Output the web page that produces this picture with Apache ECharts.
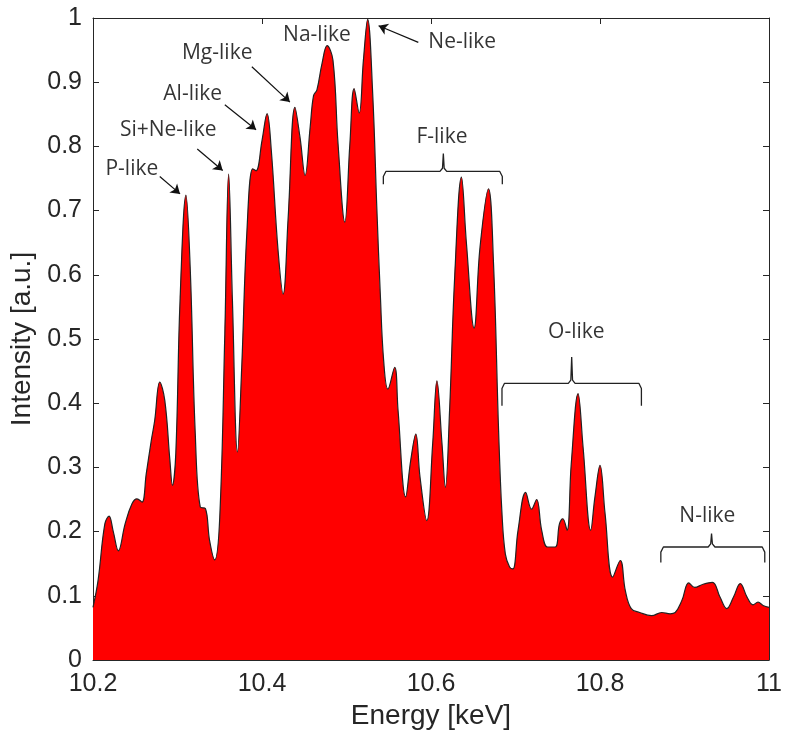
<!DOCTYPE html>
<html>
<head>
<meta charset="utf-8">
<script src="https://cdn.jsdelivr.net/npm/echarts@6/dist/echarts.min.js"></script>
<style>
html,body{margin:0;padding:0;background:#fff;}
#chart{width:786px;height:739px;}
</style>
</head>
<body>
<div id="chart"></div>
<script>
// spectrum
const energy = [
  10.200,10.206,10.214,10.219,10.224,10.230,10.238,10.246,10.252,10.258,
  10.263,10.269,10.273,10.279,10.285,10.291,10.294,10.298,10.303,10.310,
  10.315,10.321,10.327,10.333,10.338,10.344,10.350,10.356,10.3605,10.365,
  10.371,10.376,10.382,10.389,10.393,10.400,10.406,10.411,10.419,10.425,
  10.431,10.439,10.445,10.451,10.457,10.461,10.465,10.471,10.477,10.484,
  10.490,10.498,10.504,10.509,10.515,10.520,10.525,10.531,10.536,10.540,
  10.544,10.549,10.557,10.561,10.570,10.576,10.582,10.587,10.595,10.602,
  10.607,10.613,10.617,10.622,10.628,10.636,10.642,10.651,10.658,10.668,
  10.674,10.680,10.684,10.688,10.693,10.697,10.703,10.712,10.719,10.725,
  10.731,10.738,10.747,10.752,10.756,10.761,10.766,10.774,10.780,10.789,
  10.794,10.800,10.806,10.815,10.824,10.830,10.837,10.847,10.861,10.873,
  10.883,10.889,10.897,10.905,10.912,10.922,10.933,10.942,10.950,10.958,
  10.966,10.974,10.981,10.987,10.993,11.000
];
const intensity = [
  0.082,0.124,0.212,0.224,0.200,0.170,0.212,0.243,0.251,0.246,
  0.290,0.342,0.373,0.433,0.404,0.311,0.272,0.322,0.560,0.724,
  0.612,0.353,0.238,0.236,0.186,0.156,0.222,0.508,0.757,0.560,
  0.324,0.456,0.664,0.765,0.762,0.809,0.851,0.794,0.638,0.570,
  0.690,0.861,0.814,0.755,0.830,0.879,0.888,0.929,0.957,0.934,
  0.804,0.682,0.804,0.890,0.852,0.934,0.998,0.882,0.700,0.570,
  0.466,0.422,0.456,0.389,0.254,0.311,0.352,0.285,0.217,0.337,
  0.435,0.337,0.269,0.389,0.596,0.752,0.648,0.517,0.643,0.734,
  0.617,0.357,0.228,0.165,0.145,0.142,0.202,0.261,0.235,0.250,
  0.202,0.176,0.176,0.212,0.220,0.202,0.306,0.415,0.331,0.202,
  0.254,0.303,0.228,0.129,0.155,0.108,0.080,0.074,0.069,0.074,
  0.072,0.074,0.093,0.120,0.113,0.118,0.121,0.098,0.080,0.098,
  0.119,0.098,0.086,0.090,0.085,0.082
];

// annotations, in data units
const labelNames = ['P-like','Si+Ne-like','Al-like','Mg-like','Na-like','Ne-like','F-like','O-like','N-like'];
const labelAt = [
  [10.246,0.765],[10.289,0.825],[10.318,0.882],[10.347,0.946],[10.465,0.973],
  [10.637,0.962],[10.613,0.815],[10.772,0.511],[10.927,0.225]
];
// [from, to]
const arrows = [
  [[10.279,0.753],[10.303,0.726]],
  [[10.3234,0.796],[10.3535,0.7625]],
  [[10.356,0.865],[10.393,0.826]],
  [[10.388,0.924],[10.433,0.869]],
  [[10.585,0.962],[10.538,0.988]]
];
// [left, right, centre, level, end, tip]
const braces = [
  [10.5436,10.6844,10.6146,0.761,0.741,0.789],
  [10.684,10.849,10.7665,0.431,0.396,0.472],
  [10.872,10.995,10.932,0.176,0.152,0.197]
];

function bracePath(b){
  const [x1,x2,xc,yH,yE,yT] = b;
  return [
    [x1,yE],[x1,yH-0.008],[x1+0.003,yH],
    [xc-0.004,yH],[xc-0.001,yH+0.005],[xc,yT],
    [xc+0.001,yH+0.005],[xc+0.004,yH],
    [x2-0.003,yH],[x2,yH-0.008],[x2,yE]
  ];
}

const axisColor = '#262626';
const tickFont = 'Liberation Sans, Arial, sans-serif';
const noteFont = 'Open Sans, sans-serif';

const chart = echarts.init(document.getElementById('chart'));

const braceSeries = braces.map(b => ({
  type:'line',
  data: bracePath(b),
  symbol:'none',
  silent:true,
  lineStyle:{color:'#222',width:1.3},
  z:5
}));

chart.setOption({
  animation:false,
  grid:{left:93, top:18, width:676, height:642},
  xAxis:[{
    type:'value', min:10.2, max:11, interval:0.2,
    position:'bottom',
    axisLine:{show:true, onZero:false, lineStyle:{color:axisColor,width:1}},
    axisTick:{show:true, inside:true, length:6, lineStyle:{color:axisColor}},
    axisLabel:{color:axisColor, fontSize:25, fontFamily:tickFont, margin:12},
    splitLine:{show:false},
    name:'Energy [keV]', nameLocation:'middle', nameGap:41,
    nameTextStyle:{color:axisColor, fontSize:28, fontFamily:tickFont}
  },{
    type:'value', min:10.2, max:11, interval:0.2,
    position:'top',
    axisLine:{show:true, onZero:false, lineStyle:{color:axisColor,width:1}},
    axisTick:{show:true, inside:true, length:6, lineStyle:{color:axisColor}},
    axisLabel:{show:false},
    splitLine:{show:false}
  }],
  yAxis:[{
    type:'value', min:0, max:1, interval:0.1,
    position:'left',
    axisLine:{show:true, onZero:false, lineStyle:{color:axisColor,width:1}},
    axisTick:{show:true, inside:true, length:6, lineStyle:{color:axisColor}},
    axisLabel:{color:axisColor, fontSize:25, fontFamily:tickFont, margin:11},
    splitLine:{show:false},
    name:'Intensity [a.u.]', nameLocation:'middle', nameGap:37, nameRotate:90,
    nameTextStyle:{color:axisColor, fontSize:28, fontFamily:tickFont}
  },{
    type:'value', min:0, max:1, interval:0.1,
    position:'right',
    axisLine:{show:true, onZero:false, lineStyle:{color:axisColor,width:1}},
    axisTick:{show:true, inside:true, length:6, lineStyle:{color:axisColor}},
    axisLabel:{show:false},
    splitLine:{show:false}
  }],
  series:[{
    type:'line',
    data: energy.map((e,i) => [e, intensity[i]]),
    symbol:'none',
    smooth:0.4,
    lineStyle:{color:'#222',width:1.2},
    areaStyle:{color:'#ff0000',opacity:1},
    silent:true,
    markLine:{
      silent:true,
      symbol:['none','arrow'],
      symbolSize:9,
      label:{show:false},
      lineStyle:{color:'#111',width:1.2,type:'solid'},
      data: arrows.map(a => [{coord:a[0]},{coord:a[1]}])
    }
  },
  ...braceSeries,
  {
    type:'scatter',
    data: labelAt.map((p,i) => ({value:p, name:labelNames[i]})),
    symbolSize:0,
    silent:true,
    label:{
      show:true, position:'inside', formatter:'{b}',
      color:'#000', fontSize:21, fontFamily:noteFont
    },
    z:6
  }]
});
</script>
</body>
</html>
